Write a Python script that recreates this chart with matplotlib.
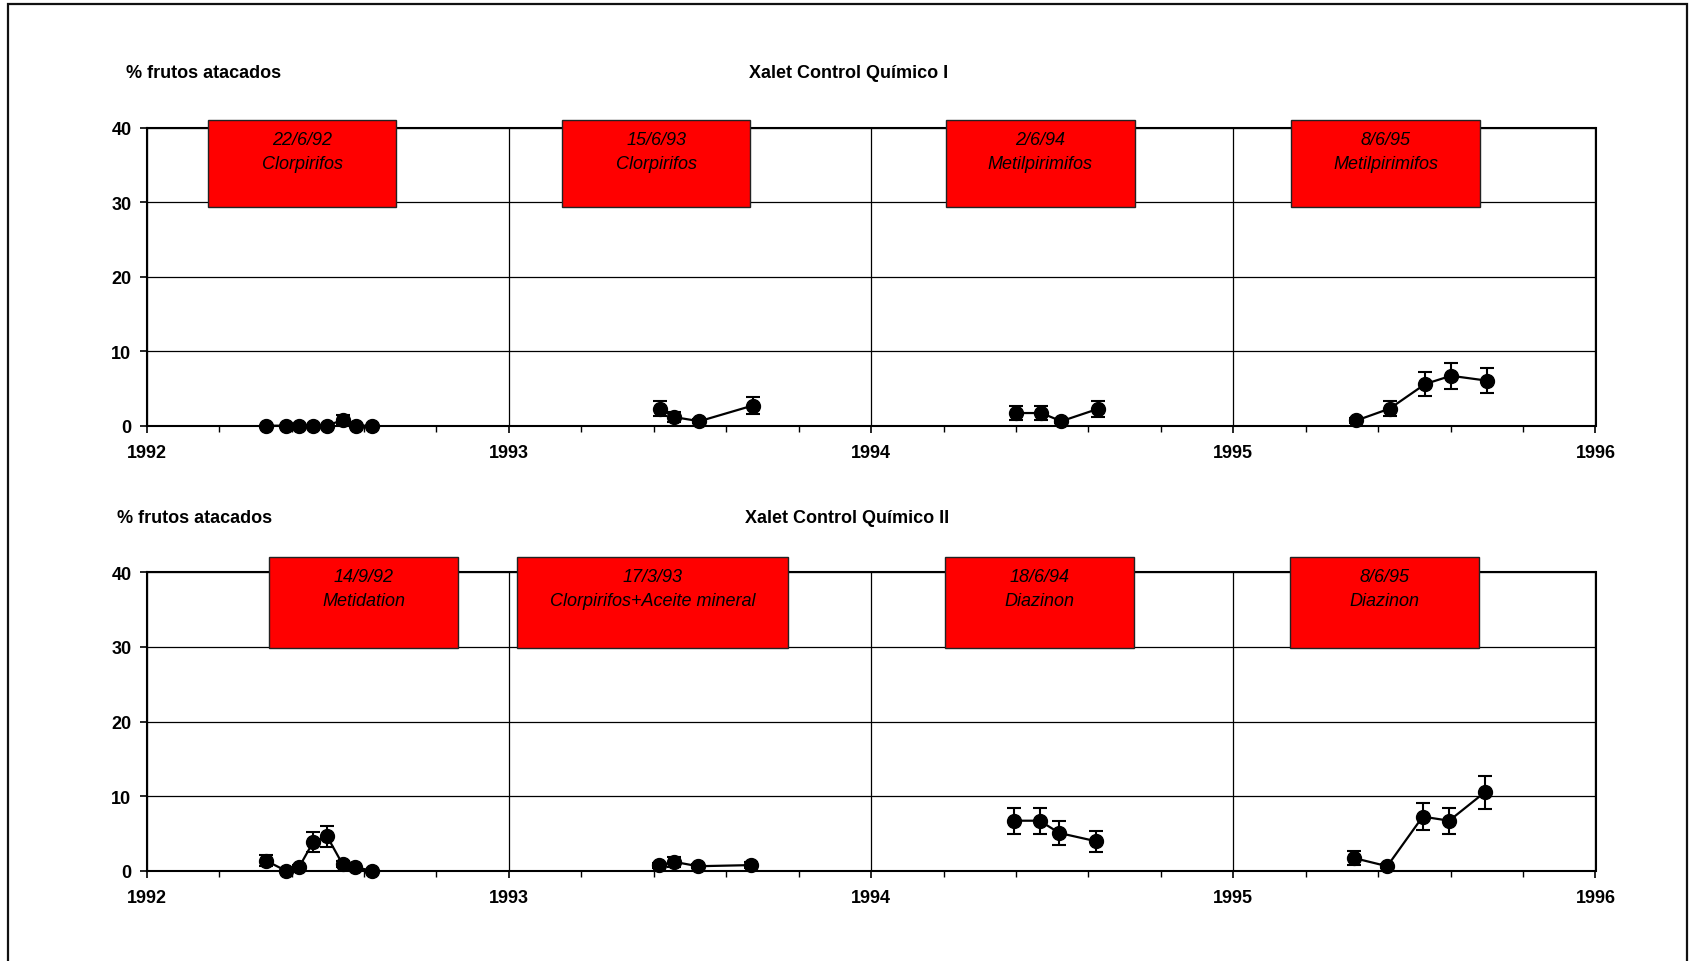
import matplotlib
matplotlib.use("Agg")
import matplotlib.pyplot as plt
from matplotlib.patches import Rectangle
from matplotlib.ticker import MultipleLocator

# ---------------- data ----------------
panel_titles = ["Xalet Control Químico I", "Xalet Control Químico II"]
ylabel_text = "% frutos atacados"
year_ticks = [1992, 1993, 1994, 1995, 1996]
y_ticks = [0, 10, 20, 30, 40]

# Panel I (decimal years, % attacked fruits, error)
p1_x_92 = [1992.329, 1992.384, 1992.421, 1992.459, 1992.498, 1992.542, 1992.578, 1992.623]
p1_y_92 = [0, 0, 0, 0, 0, 0.8, 0, 0]
p1_e_92 = [0, 0, 0, 0, 0, 0.6, 0, 0]
p1_x_93 = [1993.417, 1993.457, 1993.526, 1993.673]
p1_y_93 = [2.25, 1.15, 0.6, 2.7]
p1_e_93 = [1.0, 0.7, 0.3, 1.1]
p1_x_94 = [1994.399, 1994.470, 1994.525, 1994.626]
p1_y_94 = [1.7, 1.7, 0.6, 2.25]
p1_e_94 = [0.9, 0.9, 0.3, 1.05]
p1_x_95 = [1995.340, 1995.432, 1995.530, 1995.601, 1995.700]
p1_y_95 = [0.7, 2.3, 5.6, 6.7, 6.05]
p1_e_95 = [0.3, 1.05, 1.65, 1.75, 1.65]

# Panel II
p2_x_92 = [1992.329, 1992.384, 1992.421, 1992.459, 1992.498, 1992.541, 1992.576, 1992.623]
p2_y_92 = [1.35, 0, 0.5, 3.8, 4.6, 0.85, 0.45, 0]
p2_e_92 = [0.7, 0, 0.3, 1.35, 1.45, 0.4, 0.25, 0]
p2_x_93 = [1993.415, 1993.455, 1993.522, 1993.668]
p2_y_93 = [0.7, 1.2, 0.6, 0.75]
p2_e_93 = [0.35, 0.7, 0.3, 0.4]
p2_x_94 = [1994.395, 1994.465, 1994.520, 1994.621]
p2_y_94 = [6.7, 6.7, 5.05, 3.95]
p2_e_94 = [1.75, 1.75, 1.55, 1.4]
p2_x_95 = [1995.333, 1995.425, 1995.523, 1995.596, 1995.694]
p2_y_95 = [1.7, 0.6, 7.25, 6.7, 10.5]
p2_e_95 = [0.95, 0.3, 1.85, 1.75, 2.2]

p1_box_dates = ["22/6/92", "15/6/93", "2/6/94", "8/6/95"]
p1_box_products = ["Clorpirifos", "Clorpirifos", "Metilpirimifos", "Metilpirimifos"]
p2_box_dates = ["14/9/92", "17/3/93", "18/6/94", "8/6/95"]
p2_box_products = ["Metidation", "Clorpirifos+Aceite mineral", "Diazinon", "Diazinon"]

# ---------------- layout ----------------
W, H = 1689, 962
plt.rcParams['font.family'] = ['Liberation Sans', 'DejaVu Sans']
fig = plt.figure(figsize=(W / 100, H / 100), dpi=100)

ax_left = 146.7 / W
ax_width = (1595.5 - 146.7) / W
axes_px = [(128.7, 426.7), (573.3, 871.7)]  # (top, bottom) in pixels

# box layout: (x start, x end) in years, y-range
p1_box_x = [(1992.170, 1992.689), (1993.147, 1993.667), (1994.207, 1994.728), (1995.160, 1995.682)]
p2_box_x = [(1992.338, 1992.859), (1993.022, 1993.770), (1994.205, 1994.727), (1995.157, 1995.679)]
box_y = [(29.3, 41.1), (29.85, 42.05)]

series = [
    [(p1_x_92, p1_y_92, p1_e_92), (p1_x_93, p1_y_93, p1_e_93), (p1_x_94, p1_y_94, p1_e_94), (p1_x_95, p1_y_95, p1_e_95)],
    [(p2_x_92, p2_y_92, p2_e_92), (p2_x_93, p2_y_93, p2_e_93), (p2_x_94, p2_y_94, p2_e_94), (p2_x_95, p2_y_95, p2_e_95)],
]
boxes = [
    (p1_box_x, p1_box_dates, p1_box_products),
    (p2_box_x, p2_box_dates, p2_box_products),
]
header_px = [(126, 848.5, 74), (117.3, 847.5, 519)]

for i in range(2):
    top, bot = axes_px[i]
    ax = fig.add_axes([ax_left, 1 - bot / H, ax_width, (bot - top) / H])
    ax.set_xlim(year_ticks[0], year_ticks[-1])
    ax.set_ylim(y_ticks[0], y_ticks[-1])
    ax.set_xticks(year_ticks)
    ax.set_xticklabels([str(y) for y in year_ticks])
    ax.set_yticks(y_ticks)
    ax.xaxis.set_minor_locator(MultipleLocator(0.2))
    ax.tick_params(axis='both', which='major', direction='out', length=5, width=1.2,
                   labelsize=13, color='black')
    ax.tick_params(axis='x', which='major', pad=8.5)
    ax.tick_params(axis='y', which='major', pad=6)
    ax.tick_params(axis='x', which='minor', direction='out', length=4, width=1.0)
    for lab in ax.get_xticklabels() + ax.get_yticklabels():
        lab.set_fontweight('bold')
    ax.grid(True, axis='y', which='major', color='black', lw=0.9)
    ax.grid(True, axis='x', which='major', color='black', lw=0.9)
    ax.set_axisbelow(True)
    for s in ['left', 'bottom', 'right', 'top']:
        ax.spines[s].set_linewidth(1.5)
        ax.spines[s].set_color('black')

    for (xs, ys, es) in series[i]:
        ax.errorbar(xs, ys, yerr=es, fmt='-o', color='black', ms=10, lw=1.6,
                    elinewidth=1.5, capsize=5, capthick=1.5, clip_on=False, zorder=6)

    bx, dates, prods = boxes[i]
    y0, y1 = box_y[i]
    for (xa, xb), d, p in zip(bx, dates, prods):
        ax.add_patch(Rectangle((xa, y0), xb - xa, y1 - y0, facecolor='#FF0000',
                               edgecolor='#222222', lw=1.0, clip_on=False, zorder=5))
        cx = (xa + xb) / 2
        ax.annotate(d, xy=(cx, y1), xytext=(0, -19.5), textcoords='offset pixels',
                    ha='center', va='center', fontsize=13, style='italic',
                    color='black', zorder=7, annotation_clip=False)
        ax.annotate(p, xy=(cx, y1), xytext=(0, -43.5), textcoords='offset pixels',
                    ha='center', va='center', fontsize=13, style='italic',
                    color='black', zorder=7, annotation_clip=False)

    lx, tx, ty = header_px[i]
    fig.text(lx / W, 1 - ty / H, ylabel_text, ha='left', va='center',
             fontsize=13, fontweight='bold')
    fig.text(tx / W, 1 - ty / H, panel_titles[i], ha='center', va='center',
             fontsize=13, fontweight='bold')

# outer frame (bottom edge falls outside the image)
fig.patches.append(Rectangle((8.3 / W, -0.05), (1687 - 8.3) / W, 1.05 - 5 / H,
                             transform=fig.transFigure, fill=False,
                             edgecolor='#111111', lw=1.6))

fig.savefig("out.png", dpi=100)
